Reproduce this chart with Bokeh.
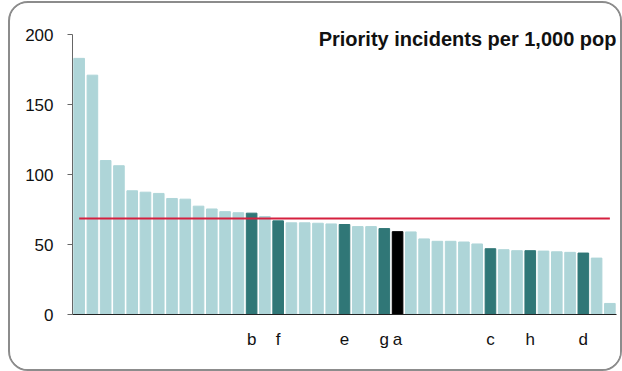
from bokeh.plotting import figure
from bokeh.models import ColumnDataSource, FixedTicker, Range1d, Label
from bokeh.embed import file_html
from bokeh.resources import INLINE

# ---- data ----
values = [183, 171, 110, 106.3, 88.4, 87.4, 86.5, 82.9, 82.4, 77.4,
          75.4, 73.5, 72.7, 72.4, 70.0, 66.9, 65.5, 65.5, 65.2, 64.7,
          64.3, 62.8, 62.8, 61.4, 59.2, 59.0, 54.0, 52.3, 52.3, 51.8,
          50.4, 47.0, 46.3, 45.6, 45.6, 45.3, 44.8, 44.4, 43.9, 40.3, 7.9]
labels = ["", "", "", "", "", "", "", "", "", "",
          "", "", "", "b", "", "f", "", "", "", "",
          "e", "", "", "g", "a", "", "", "", "", "",
          "", "c", "", "", "h", "", "", "", "d", "", ""]
average = 68.6
y_ticks = [0, 50, 100, 150, 200]
title_text = "Priority incidents per 1,000 pop"

LIGHT = "#AED5D8"
DARK = "#307777"
FOCUS = "#000000"

xs = list(range(1, len(values) + 1))
colors = []
for lab in labels:
    if lab == "a":
        colors.append(FOCUS)
    elif lab:
        colors.append(DARK)
    else:
        colors.append(LIGHT)

src = ColumnDataSource(dict(x=xs, top=values, color=colors, label=labels))

W, H = 614, 370
p = figure(width=W, height=H, output_backend="svg", toolbar_location=None,
           x_range=Range1d(0.5, len(values) + 0.5), y_range=Range1d(0, 207.2),
           min_border_left=62, min_border_right=8, min_border_top=21,
           min_border_bottom=59,
           styles={"border": "2px solid #8c8c8c", "border-radius": "20px",
                   "margin-left": "8px", "margin-top": "1px",
                   "box-sizing": "border-box", "overflow": "hidden"})

p.vbar(x="x", top="top", width=0.8, color="color", source=src)
p.line(x=[xs[0], xs[-1]], y=[average, average], line_color="#D5203F", line_width=2)

p.grid.visible = False
p.outline_line_color = None
p.background_fill_color = "white"
p.border_fill_color = "white"

# y axis
ya = p.yaxis[0]
ya.ticker = FixedTicker(ticks=y_ticks)
ya.bounds = (0, 200)
ya.axis_line_color = "#666666"
ya.major_tick_line_color = "#666666"
ya.major_tick_out = 5
ya.major_tick_in = 0
ya.minor_tick_line_color = None
ya.major_label_standoff = 14
ya.major_label_text_font = "Liberation Sans"
ya.major_label_text_font_size = "17px"
ya.major_label_text_color = "#111111"

# x axis with letters
xa = p.xaxis[0]
tick_pos = [x for x, lab in zip(xs, labels) if lab]
xa.ticker = FixedTicker(ticks=tick_pos)
xa.major_label_overrides = {x: lab for x, lab in zip(xs, labels) if lab}
xa.axis_line_color = "#222222"
xa.major_tick_line_color = None
xa.minor_tick_line_color = None
xa.major_label_standoff = 9
xa.major_label_text_font = "Liberation Sans"
xa.major_label_text_font_size = "17px"
xa.major_label_text_color = "#111111"

# title inside frame, top-right
t = Label(x=len(values) + 0.5, y=200, text=title_text, text_align="right",
          text_baseline="top", text_font="Liberation Sans", text_font_style="bold",
          text_font_size="20px", text_color="#111111", y_offset=7)
p.add_layout(t)

open("out.html", "w").write(file_html(p, INLINE))
